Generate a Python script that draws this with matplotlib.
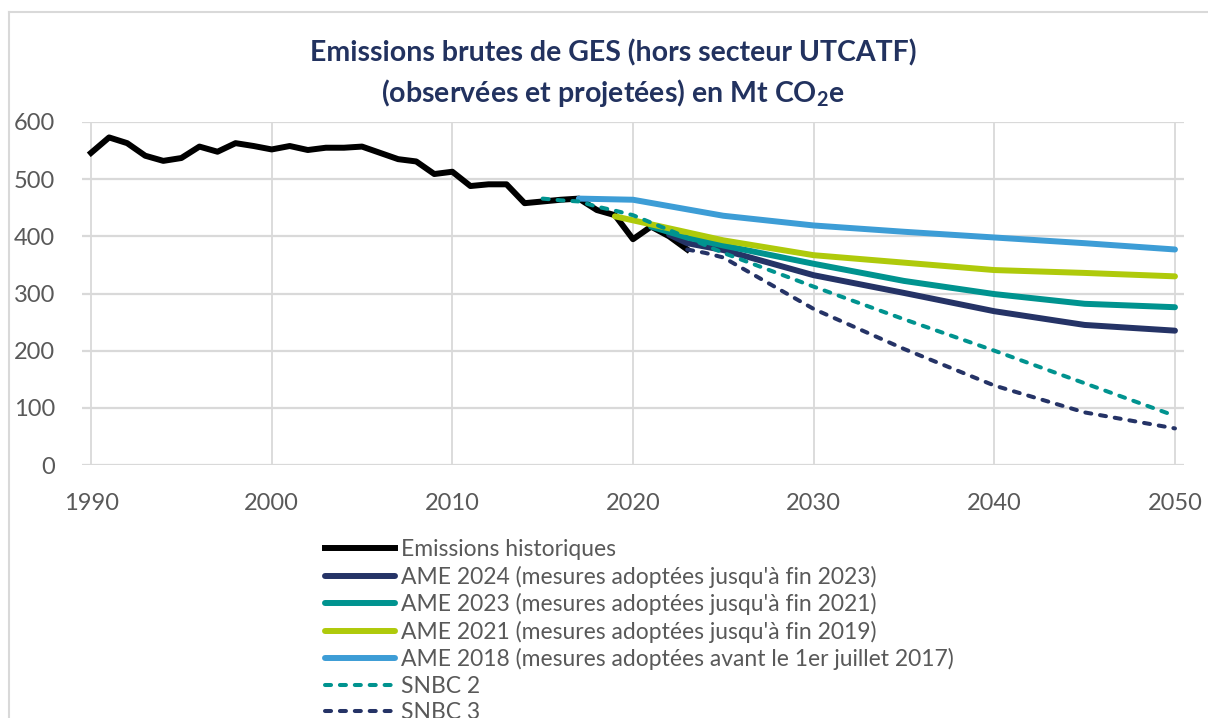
import matplotlib
matplotlib.use('Agg')
import matplotlib.pyplot as plt
from matplotlib.lines import Line2D

# historique
hist_years = list(range(1990, 2024))
hist_vals = [546, 573, 563, 541, 532, 537, 557, 548, 563, 558,
             552, 558, 551, 555, 555, 557, 546, 535, 531, 509,
             513, 488, 491, 491, 458, 461, 464, 466, 446, 437,
             395, 417, 400, 377]

ame2024_years = [2022, 2023, 2025, 2030, 2035, 2040, 2045, 2050]
ame2024_vals = [403, 388, 376, 332, 301, 269, 245, 235]

ame2023_years = [2021, 2023, 2025, 2030, 2035, 2040, 2045, 2050]
ame2023_vals = [417, 398, 384, 352, 322, 299, 282, 276]

ame2021_years = [2019, 2020, 2025, 2030, 2035, 2040, 2045, 2050]
ame2021_vals = [435, 428, 393, 367, 354, 341, 336, 330]

ame2018_years = [2017, 2020, 2025, 2030, 2035, 2040, 2045, 2050]
ame2018_vals = [466, 464, 436, 419, 408, 398, 388, 377]

snbc2_years = [2015, 2016, 2017, 2018, 2019, 2020, 2021, 2022, 2023, 2025,
               2030, 2035, 2040, 2045, 2050]
snbc2_vals = [466, 463, 461, 452, 445, 437, 424, 411, 398, 371,
              312, 255, 200, 143, 86]

snbc3_years = [2023, 2024, 2025, 2030, 2035, 2040, 2045, 2050]
snbc3_vals = [377, 371, 363, 273, 203, 139, 92, 64]

labels = ['Emissions historiques',
          "AME 2024 (mesures adoptées jusqu'à fin 2023)",
          "AME 2023 (mesures adoptées jusqu'à fin 2021)",
          "AME 2021 (mesures adoptées jusqu'à fin 2019)",
          'AME 2018 (mesures adoptées avant le 1er juillet 2017)',
          'SNBC 2',
          'SNBC 3']

NAVY = '#253366'
TEAL = '#00938F'
LIME = '#AFCA0B'
SKY = '#3D9DD6'
GRID = '#D9D9D9'
TXT = '#595959'

plt.rcParams['font.family'] = ['Lato', 'DejaVu Sans']
plt.rcParams['mathtext.fontset'] = 'custom'
plt.rcParams['mathtext.rm'] = 'Lato:bold'
plt.rcParams['mathtext.default'] = 'rm'

fig = plt.figure(figsize=(12.08, 7.18), dpi=100)
W, H = 1208, 718
ax = fig.add_axes([82 / W, 1 - 465 / H, (1184 - 82) / W, (465 - 122) / H])

lw = 4.3
dlw = 2.9
dash = (0, (1.5, 2.2))
ax.plot(hist_years, hist_vals, color='black', lw=lw, label=labels[0])
ax.plot(ame2024_years, ame2024_vals, color=NAVY, lw=lw, label=labels[1], solid_capstyle='round')
ax.plot(ame2023_years, ame2023_vals, color=TEAL, lw=lw, label=labels[2], solid_capstyle='round')
ax.plot(ame2021_years, ame2021_vals, color=LIME, lw=lw, label=labels[3], solid_capstyle='round')
ax.plot(ame2018_years, ame2018_vals, color=SKY, lw=lw, label=labels[4], solid_capstyle='round')
ax.plot(snbc2_years, snbc2_vals, color=TEAL, lw=dlw, ls=dash, label=labels[5],
        dash_capstyle='round')
ax.plot(snbc3_years, snbc3_vals, color=NAVY, lw=dlw, ls=dash, label=labels[6],
        dash_capstyle='round')

ax.set_xlim(1989.5, 2050.5)
ax.set_ylim(0, 600)
ax.set_yticks(range(0, 601, 100))
ax.set_xticks(range(1990, 2051, 10))

# grille
for y in range(0, 601, 100):
    ax.axhline(y, color=GRID, lw=1.6, zorder=0)
for x in range(1990, 2051, 10):
    ax.axvline(x, color=GRID, lw=1.3, zorder=0)

for s in ax.spines.values():
    s.set_visible(False)
ax.tick_params(length=0, labelsize=17, colors=TXT)
ax.tick_params(axis='y', pad=19.5)
ax.tick_params(axis='x', pad=20)

fig.text(613 / W, 1 - 53 / H, 'Emissions brutes de GES (hors secteur UTCATF)',
         ha='center', va='center', fontsize=20.5, fontweight='bold', color='#22325F')
fig.text(613 / W, 1 - 93 / H, r'(observées et projetées) en Mt CO$_2$e',
         ha='center', va='center', fontsize=20.5, fontweight='bold', color='#22325F')

leg = fig.legend(loc='upper left', bbox_to_anchor=(325 / W, 1 - 539 / H), frameon=False,
                 fontsize=16.5, handlelength=3.05, handletextpad=0.27, labelspacing=0.24,
                 borderaxespad=0, borderpad=0)
for t in leg.get_texts():
    t.set_color(TXT)

# cadre du graphique
fig.add_artist(Line2D([9 / W, 9 / W], [0, 1 - 12 / H], color=GRID, lw=1.5))
fig.add_artist(Line2D([9 / W, 1], [1 - 12 / H, 1 - 12 / H], color=GRID, lw=1.5))

fig.savefig('out.png', dpi=100)
